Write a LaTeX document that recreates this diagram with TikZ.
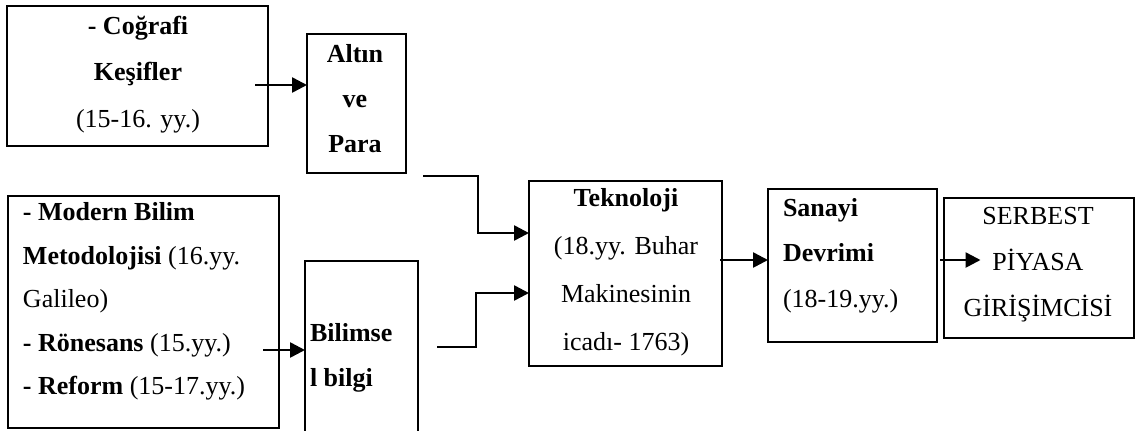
\documentclass[tikz,border=0pt]{standalone}
\usepackage{fontspec}
\setmainfont{Liberation Serif}
\usetikzlibrary{arrows.meta,calc}
\tikzset{
  box/.style={draw, line width=1.3pt, inner sep=0pt, outer sep=0pt, rectangle},
  txt/.style={inner sep=0pt, outer sep=0pt},
  arr/.style={line width=1.3pt, -{Triangle[length=7.5pt,width=7.5pt]}},
  ln/.style={line width=1.3pt}
}
\newcommand{\fs}[1]{\fontsize{13}{#1}\selectfont}
\begin{document}
\begin{tikzpicture}[x=0.5pt,y=-0.5pt]
\clip (0,0) rectangle (1136,430);
\fill[white] (0,0) rectangle (1136,430);
% boxes
\node[box, minimum width=130.5pt, minimum height=70pt] (geo) at (137.5,76) {};
\node[box, minimum width=49.5pt, minimum height=69.5pt] (altin) at (356.5,103.5) {};
\node[box, minimum width=135.5pt, minimum height=116pt] (modern) at (143.5,312) {};
\node[box, minimum width=56.5pt, minimum height=94.5pt] (bilgi) at (361.5,355.5) {};
\node[box, minimum width=96.5pt, minimum height=92.5pt] (tekno) at (625.5,273.5) {};
\node[box, minimum width=84.5pt, minimum height=76.5pt] (sanayi) at (852.5,265.5) {};
\node[box, minimum width=95pt, minimum height=70pt] (serbest) at (1039,268) {};
% texts
\node[txt, align=center, font=\fs{23.25pt}] (geo-t) at (138,74.5)
  {\textbf{- Coğrafi}\\\textbf{Keşifler}\\(15-16. yy.)};
\node[txt, align=center, font=\fs{22.5pt}] (altin-t) at (355,98.5)
  {\textbf{Altın}\\\textbf{ve}\\\textbf{Para}};
\node[txt, align=left, anchor=west, font=\fs{21.75pt}] (modern-t) at (23,301.5)
  {\textbf{- Modern Bilim}\\\textbf{Metodolojisi} (16.yy.\\Galileo)\\\textbf{- Rönesans} (15.yy.)\\\textbf{- Reform} (15-17.yy.)};
\node[txt, align=left, anchor=west, font=\fs{22.5pt}] (bilgi-t) at (310,357.5)
  {\textbf{Bilimse}\\\textbf{l bilgi}};
\node[txt, align=center, font=\fs{24pt}] (tekno-t) at (626,272.5)
  {\textbf{Teknoloji}\\(18.yy. Buhar\\Makinesinin\\icadı- 1763)};
\node[txt, align=left, anchor=west, font=\fs{22.75pt}] (sanayi-t) at (783,255.5)
  {\textbf{Sanayi}\\\textbf{Devrimi}\\(18-19.yy.)};
\node[txt, align=center, font=\fs{23pt}] (serbest-t) at (1038,265)
  {SERBEST\\PİYASA\\GİRİŞİMCİSİ};
% connectors
\coordinate (c1) at ($(geo.east)+(-13,9)$);
\draw[arr] (c1) -- (c1 -| altin.west);
\coordinate (c2) at (423,176);
\coordinate (k2) at (478,176);
\draw[arr] (c2) -- (k2) |- ($(tekno.west)+(0,-40.5)$);
\coordinate (c3) at ($(modern.east)+(-16,38)$);
\draw[arr] (c3) -- (c3 -| bilgi.west);
\coordinate (c4) at (437,347);
\coordinate (k4) at (476,347);
\draw[arr] (c4) -- (k4) |- ($(tekno.west)+(0,19.5)$);
\coordinate (c5) at ($(tekno.east)+(-2,-13.5)$);
\draw[arr] (c5) -- (c5 -| sanayi.west);
\coordinate (c6) at ($(sanayi.east)+(3,-5.5)$);
\draw[arr] (c6) -- ($(serbest.west)+(36.5,-8)$);
\end{tikzpicture}
\end{document}
